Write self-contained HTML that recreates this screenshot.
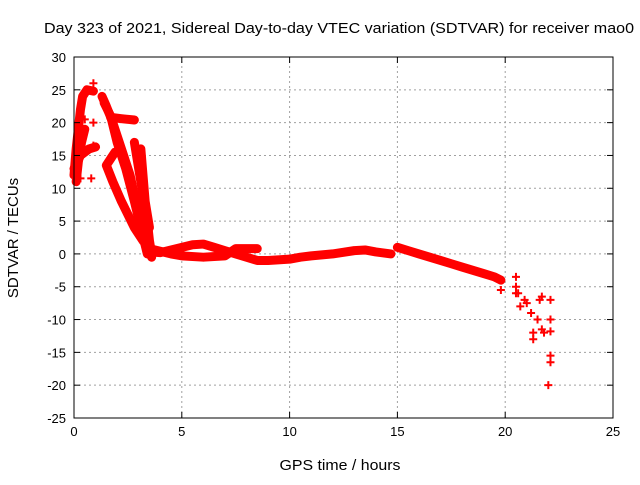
<!DOCTYPE html>
<html><head><meta charset="utf-8"><style>
body{margin:0;background:#fff;font-family:"Liberation Sans",sans-serif}
svg text{font-family:"Liberation Sans",sans-serif;font-size:13px;fill:#000}
</style></head><body>
<svg id="chart" width="640" height="480" xmlns="http://www.w3.org/2000/svg">
<text x="339" y="33" text-anchor="middle" style="font-size:15px" textLength="590" lengthAdjust="spacingAndGlyphs">Day 323 of 2021, Sidereal Day-to-day VTEC variation (SDTVAR) for receiver mao0</text>
<text x="340" y="470" text-anchor="middle" style="font-size:15px" textLength="121" lengthAdjust="spacingAndGlyphs">GPS time / hours</text>
<text transform="translate(18,238) rotate(-90)" text-anchor="middle" style="font-size:15px">SDTVAR / TECUs</text>
<g id="grid"></g>
<g id="series"></g>
<rect x="74" y="57" width="539" height="361" fill="none" stroke="#000" stroke-width="1"/>
<g id="ticks"></g>
</svg>
<script>
const xTicks=[0,5,10,15,20,25];
const yTicks=[30,25,20,15,10,5,0,-5,-10,-15,-20,-25];
const trackA=[[0,12],[0.05,14],[0.1,16],[0.2,19],[0.3,22],[0.4,24],[0.6,25],[0.9,24.8]];
const trackB=[[1.3,24],[1.5,22.5],[1.8,20],[2.0,18],[2.3,15],[2.6,12],[2.8,9],[3.0,6],[3.2,3],[3.4,1],[3.6,-0.5]];
const trackG=[[1.4,23],[1.7,21],[2.0,17],[2.4,13],[2.8,8],[3.1,4],[3.4,0]];
const trackC=[[1.9,15.5],[1.7,14.5],[1.5,13.5],[1.8,11],[2.2,8],[2.5,6],[2.8,4],[3.2,2],[3.5,1]];
const trackD=[[1.7,20.8],[2.2,20.6],[2.8,20.4]];
const trackE=[[2.8,17],[3.0,13],[3.2,9],[3.4,5],[3.5,2],[3.6,0]];
const trackH=[[3.1,16],[3.2,12],[3.3,8],[3.5,4]];
const trackF=[[0,13],[0.3,15],[0.7,16],[1.0,16.3]];
const trackI=[[0.1,11],[0.2,14],[0.35,17],[0.5,19]];
const band1=[[3.5,0.3],[4,0.2],[4.5,0.6],[5,1],[5.5,1.4],[6,1.5],[6.5,1],[7,0.5],[7.5,0],[8,-0.5],[8.5,-1],[9,-1],[10,-0.8],[10.5,-0.5],[11,-0.3],[12,0],[13,0.5],[13.5,0.6],[14,0.3],[14.7,0]];
const band2=[[3.5,0.8],[4.5,0],[5,-0.3],[6,-0.5],[7,-0.3],[7.5,0.8],[8.5,0.8]];
const band3=[[15,1],[15.5,0.5],[16,0],[16.5,-0.5],[17,-1],[17.5,-1.5],[18,-2],[18.5,-2.5],[19,-3],[19.5,-3.5],[19.8,-4]];
const scatter=[[0.3,11.5],[0.8,11.5],[0.9,16.5],[0.9,20],[0.9,26],[0.5,20.5],[19.8,-5.5],[20.5,-3.5],[20.5,-5],[20.5,-6],[20.6,-6],[20.7,-8],[20.9,-7],[21.0,-7.5],[21.2,-9],[21.3,-12],[21.3,-13],[21.5,-10],[21.6,-7],[21.7,-6.5],[21.7,-11.5],[21.8,-12],[22.1,-7],[22.1,-10],[22.1,-11.8],[22.1,-15.5],[22.1,-16.5],[22.0,-20]];
const tracks=[trackA,trackB,trackG,trackC,trackD,trackE,trackH,trackF,trackI,band1,band2,band3];
const NS="http://www.w3.org/2000/svg";
const X0=74,X1=613,Y0=418,Y1=57,xmin=0,xmax=25,ymin=-25,ymax=30;
const sx=v=>X0+(v-xmin)/(xmax-xmin)*(X1-X0);
const sy=v=>Y0-(v-ymin)/(ymax-ymin)*(Y0-Y1);
function mk(t,a,p){const e=document.createElementNS(NS,t);for(const k in a)e.setAttribute(k,a[k]);p.appendChild(e);return e;}
const grid=document.getElementById('grid'),ticks=document.getElementById('ticks'),ser=document.getElementById('series');
xTicks.forEach(v=>{const x=sx(v);
 if(v>0&&v<25){const g=mk('line',{x1:x,x2:x,y1:Y0,y2:Y1,stroke:'#a0a0a0','stroke-dasharray':'2,3'},grid);}
 mk('line',{x1:x,x2:x,y1:Y0,y2:Y0-6,stroke:'#000'},ticks);mk('line',{x1:x,x2:x,y1:Y1,y2:Y1+6,stroke:'#000'},ticks);
 const t=mk('text',{x:x,y:Y0+18,'text-anchor':'middle'},ticks);t.textContent=v;
 
 });
yTicks.forEach(v=>{const y=sy(v);
 if(v<30&&v>-25){const g=mk('line',{x1:X0,x2:X1,y1:y,y2:y,stroke:'#a0a0a0','stroke-dasharray':'2,3'},grid);}
 mk('line',{x1:X0,x2:X0+6,y1:y,y2:y,stroke:'#000'},ticks);mk('line',{x1:X1,x2:X1-6,y1:y,y2:y,stroke:'#000'},ticks);
 const t=mk('text',{x:X0-8,y:y+5,'text-anchor':'end'},ticks);t.textContent=v;
 
 });
function plus(x,y){const p=mk('path',{d:`M${x-4},${y}h8M${x},${y-4}v8`,stroke:'#f00','stroke-width':2},ser);
 
 }
tracks.forEach(tr=>{
 const pl=mk('polyline',{points:tr.map(p=>sx(p[0])+','+sy(p[1])).join(' '),fill:'none',stroke:'#f00','stroke-width':9,'stroke-linejoin':'round','stroke-linecap':'round'},ser);
 
 
 tr.forEach(p=>plus(sx(p[0]),sy(p[1])));});
scatter.forEach(p=>plus(sx(p[0]),sy(p[1])));
</script>
</body></html>
